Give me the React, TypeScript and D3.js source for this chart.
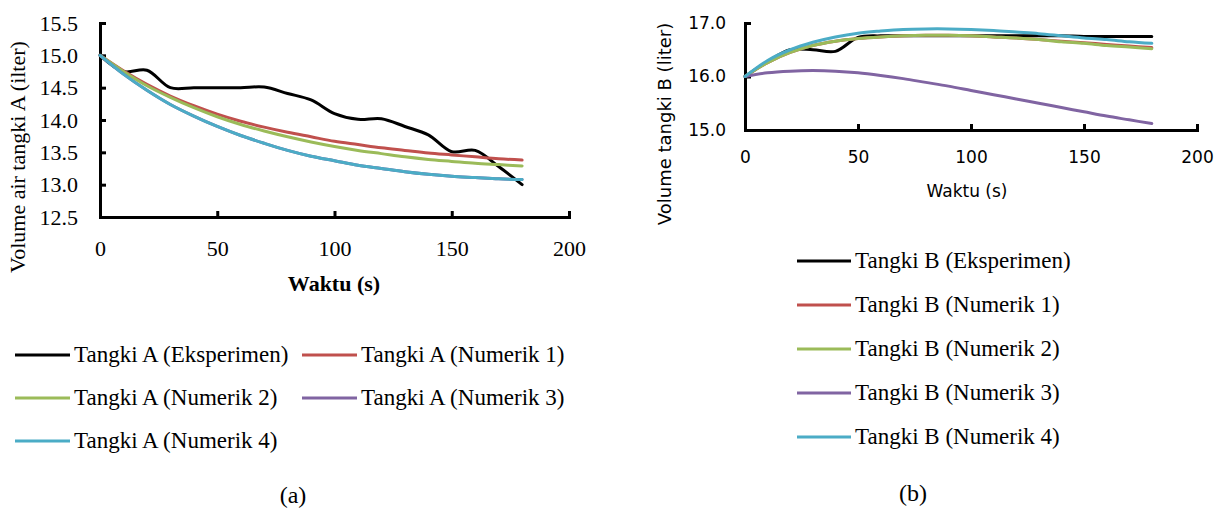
import React, { useEffect, useRef } from "react";
import * as d3 from "d3";

// time (s), same for every series
const waktu = [0, 10, 20, 30, 40, 50, 60, 70, 80, 90, 100, 110, 120, 130, 140, 150, 160, 170, 180];

// tangki A
const aEksperimen = [15.0, 14.75, 14.77, 14.5, 14.5, 14.5, 14.5, 14.51, 14.41, 14.31, 14.1, 14.01, 14.02, 13.9, 13.77, 13.51, 13.53, 13.28, 13.0];
const aNumerik1 = [15.0, 14.76, 14.55, 14.37, 14.22, 14.09, 13.98, 13.89, 13.81, 13.74, 13.67, 13.62, 13.57, 13.53, 13.49, 13.46, 13.43, 13.4, 13.38];
const aNumerik2 = [15.0, 14.75, 14.53, 14.35, 14.19, 14.05, 13.93, 13.83, 13.74, 13.66, 13.59, 13.53, 13.48, 13.43, 13.39, 13.36, 13.33, 13.31, 13.29];
const aNumerik3 = [15.0, 14.71, 14.46, 14.24, 14.06, 13.9, 13.76, 13.64, 13.53, 13.44, 13.37, 13.3, 13.25, 13.2, 13.16, 13.13, 13.11, 13.09, 13.08];
const aNumerik4 = [15.0, 14.71, 14.46, 14.24, 14.06, 13.9, 13.76, 13.64, 13.53, 13.44, 13.37, 13.3, 13.25, 13.2, 13.16, 13.13, 13.11, 13.09, 13.08];

// tangki B
const bEksperimen = [16.0, 16.28, 16.5, 16.5, 16.47, 16.73, 16.76, 16.76, 16.76, 16.76, 16.76, 16.76, 16.76, 16.76, 16.76, 16.75, 16.75, 16.75, 16.75];
const bNumerik1 = [16.0, 16.26, 16.45, 16.58, 16.66, 16.71, 16.74, 16.76, 16.77, 16.77, 16.76, 16.74, 16.72, 16.69, 16.66, 16.63, 16.6, 16.57, 16.54];
const bNumerik2 = [16.0, 16.26, 16.45, 16.58, 16.66, 16.71, 16.74, 16.76, 16.77, 16.77, 16.76, 16.74, 16.72, 16.69, 16.65, 16.62, 16.58, 16.55, 16.52];
const bNumerik3 = [16.0, 16.07, 16.1, 16.11, 16.1, 16.07, 16.02, 15.96, 15.89, 15.82, 15.74, 15.66, 15.58, 15.5, 15.42, 15.34, 15.26, 15.19, 15.12];
const bNumerik4 = [16.0, 16.3, 16.5, 16.64, 16.74, 16.81, 16.85, 16.88, 16.89, 16.89, 16.88, 16.86, 16.83, 16.8, 16.76, 16.72, 16.69, 16.65, 16.62];

const namaA = ["Tangki A (Eksperimen)", "Tangki A (Numerik 1)", "Tangki A (Numerik 2)", "Tangki A (Numerik 3)", "Tangki A (Numerik 4)"];
const namaB = ["Tangki B (Eksperimen)", "Tangki B (Numerik 1)", "Tangki B (Numerik 2)", "Tangki B (Numerik 3)", "Tangki B (Numerik 4)"];
const warna = ["#000000", "#C0504D", "#9BBB59", "#8064A2", "#4BACC6"];

const xTicks = [0, 50, 100, 150, 200];
const yTicksA = [12.5, 13.0, 13.5, 14.0, 14.5, 15.0, 15.5];
const yTicksB = [15.0, 16.0, 17.0];

const SERIF = "'Liberation Serif', 'DejaVu Serif', serif";
const SANS = "'DejaVu Sans', Verdana, sans-serif";

export default function App() {
  const ref = useRef<SVGSVGElement>(null);

  useEffect(() => {
    const svg = d3.select(ref.current);
    svg.selectAll("*").remove();

    const xA = d3.scaleLinear().domain([0, 200]).range([100, 569]);
    const yA = d3.scaleLinear().domain([12.5, 15.5]).range([217, 23]);
    const xB = d3.scaleLinear().domain([0, 200]).range([745, 1197]);
    const yB = d3.scaleLinear().domain([15, 17]).range([130, 23]);

    const drawAxes = (x, y, yTicks, font, size, xPad, yPad) => {
      const gx = svg.append("g")
        .attr("transform", `translate(0,${y.range()[0]})`)
        .call(d3.axisBottom(x).tickValues(xTicks).tickSize(-6).tickPadding(xPad).tickFormat(d3.format("d")));
      const gy = svg.append("g")
        .attr("transform", `translate(${x.range()[0]},0)`)
        .call(d3.axisLeft(y).tickValues(yTicks).tickSize(-6).tickPadding(yPad).tickFormat(d3.format(".1f")));
      [gx, gy].forEach((g) => {
        g.selectAll("path, line").attr("stroke", "#000").attr("stroke-width", 3);
        g.selectAll("text").attr("fill", "#000").style("font-family", font).style("font-size", `${size}px`);
      });
    };

    const line = (x, y) => d3.line<number>()
      .x((_, i) => x(waktu[i]))
      .y((d) => y(d))
      .curve(d3.curveCatmullRom.alpha(0.5));

    // ---- chart (a)
    drawAxes(xA, yA, yTicksA, SERIF, 22, 23, 22);
    const seriesA = [aEksperimen, aNumerik1, aNumerik2, aNumerik3, aNumerik4];
    const lineA = line(xA, yA);
    seriesA.forEach((s, i) => {
      svg.append("path").attr("d", lineA(s)).attr("fill", "none")
        .attr("stroke", warna[i]).attr("stroke-width", 3).attr("stroke-linecap", "round");
    });

    svg.append("text").attr("transform", "translate(25,157) rotate(-90)")
      .attr("text-anchor", "middle").style("font-family", SERIF).style("font-size", "22px")
      .text("Volume air tangki A (ilter)");
    svg.append("text").attr("x", 334).attr("y", 291)
      .attr("text-anchor", "middle").style("font-family", SERIF).style("font-size", "22px")
      .style("font-weight", "bold").text("Waktu (s)");

    // legend (a), two columns
    namaA.forEach((n, i) => {
      const lx = i % 2 === 0 ? 15 : 302;
      const ly = 355 + Math.floor(i / 2) * 43;
      svg.append("line").attr("x1", lx).attr("x2", lx + 55).attr("y1", ly).attr("y2", ly)
        .attr("stroke", warna[i]).attr("stroke-width", 3);
      svg.append("text").attr("x", lx + 59).attr("y", ly + 7)
        .style("font-family", SERIF).style("font-size", "23px").text(n);
    });
    svg.append("text").attr("x", 293).attr("y", 503).attr("text-anchor", "middle")
      .style("font-family", SERIF).style("font-size", "24px").text("(a)");

    // ---- chart (b)
    drawAxes(xB, yB, yTicksB, SANS, 17, 21, 19);
    const seriesB = [bEksperimen, bNumerik1, bNumerik2, bNumerik3, bNumerik4];
    const lineB = line(xB, yB);
    seriesB.forEach((s, i) => {
      svg.append("path").attr("d", lineB(s)).attr("fill", "none")
        .attr("stroke", warna[i]).attr("stroke-width", 3).attr("stroke-linecap", "round");
    });

    svg.append("text").attr("transform", "translate(671,124) rotate(-90)")
      .attr("text-anchor", "middle").style("font-family", SANS).style("font-size", "18px")
      .text("Volume tangki B (liter)");
    svg.append("text").attr("x", 967).attr("y", 197)
      .attr("text-anchor", "middle").style("font-family", SANS).style("font-size", "17px")
      .text("Waktu (s)");

    namaB.forEach((n, i) => {
      const ly = 261 + i * 44;
      svg.append("line").attr("x1", 797).attr("x2", 851).attr("y1", ly).attr("y2", ly)
        .attr("stroke", warna[i]).attr("stroke-width", 3);
      svg.append("text").attr("x", 855).attr("y", ly + 7)
        .style("font-family", SERIF).style("font-size", "23px").text(n);
    });
    svg.append("text").attr("x", 913).attr("y", 501).attr("text-anchor", "middle")
      .style("font-family", SERIF).style("font-size", "24px").text("(b)");
  }, []);

  return (
    <svg ref={ref} width={1217} height={509}
      style={{ position: "absolute", left: 0, top: 0, background: "#fff" }} />
  );
}
